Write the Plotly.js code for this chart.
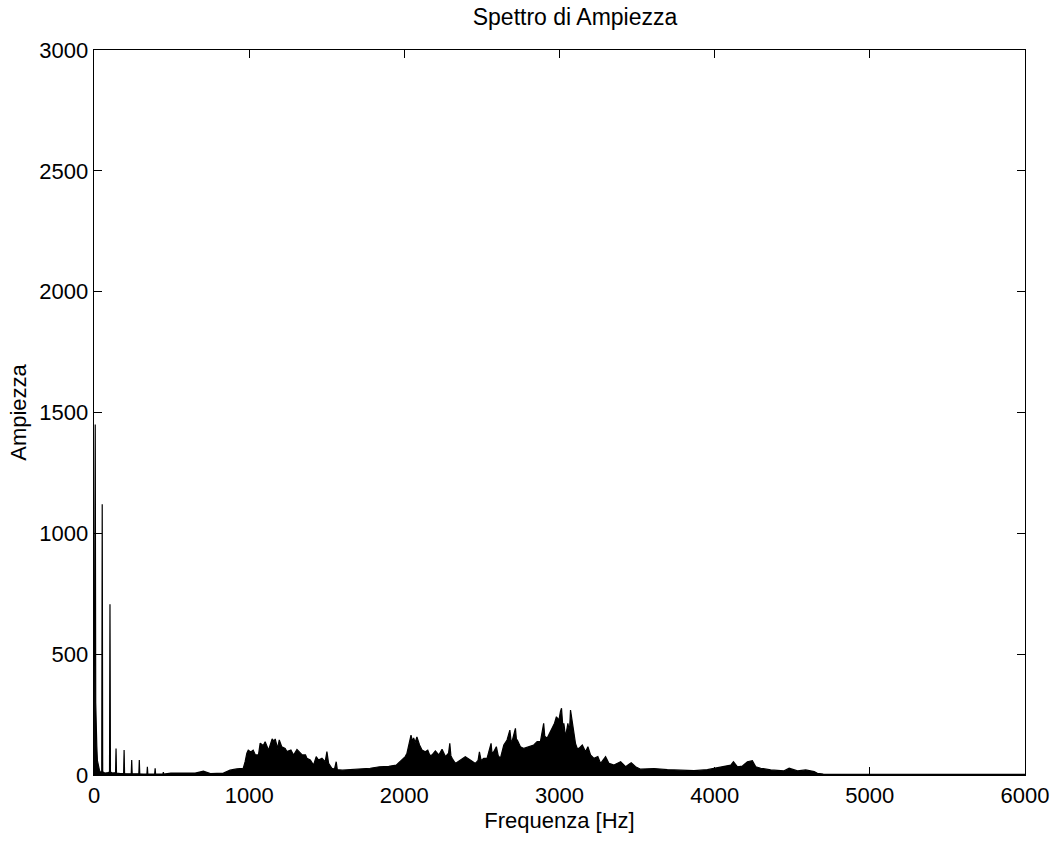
<!DOCTYPE html>
<html>
<head>
<meta charset="utf-8">
<script src="https://cdn.plot.ly/plotly-3.0.1.min.js"></script>
<style>html,body{margin:0;padding:0;background:#fff;}#chart{width:1059px;height:849px;}</style>
</head>
<body>
<div id="chart"></div>
<script>
const freq = [
  0, 3, 5, 8, 11, 14, 18, 22, 28, 35, 42, 50, 53, 56, 62, 75, 90, 100, 103, 106,
  120, 139, 142, 145, 170, 191, 194, 197, 220, 240, 243, 246, 270, 289, 292, 295,
  320, 341, 344, 347, 370, 391, 394, 397, 420, 444, 447, 450, 495, 551, 602, 652,
  705, 750, 834, 877, 920, 962, 974, 985, 994, 1010, 1026, 1040, 1060, 1071, 1084,
  1090, 1103, 1125, 1148, 1160, 1168, 1183, 1194, 1210, 1232, 1243, 1269, 1286,
  1308, 1329, 1342, 1363, 1372, 1394, 1415, 1432, 1447, 1469, 1490, 1501, 1512,
  1533, 1550, 1561, 1568, 1600, 1650, 1700, 1733, 1780, 1840, 1900, 1948, 1974,
  1985, 2006, 2017, 2028, 2043, 2052, 2060, 2070, 2081, 2098, 2114, 2135, 2151,
  2165, 2179, 2200, 2222, 2243, 2265, 2285, 2293, 2300, 2308, 2329, 2361, 2393,
  2425, 2458, 2475, 2484, 2495, 2512, 2533, 2559, 2565, 2576, 2593, 2605, 2619,
  2641, 2662, 2680, 2688, 2695, 2716, 2722, 2731, 2748, 2770, 2802, 2834, 2856,
  2877, 2898, 2905, 2920, 2946, 2968, 2980, 2996, 3006, 3013, 3023, 3028, 3039,
  3054, 3064, 3071, 3080, 3088, 3103, 3114, 3125, 3147, 3168, 3183, 3200, 3222,
  3247, 3265, 3297, 3319, 3351, 3394, 3426, 3462, 3490, 3523, 3609, 3695, 3781,
  3867, 3953, 4018, 4061, 4104, 4121, 4147, 4179, 4211, 4243, 4265, 4297, 4361,
  4447, 4480, 4534, 4587, 4641, 4662, 4700, 5000, 5500, 6000
];
const amp = [
  5, 590, 150, 1450, 300, 150, 120, 60, 40, 20, 10, 15, 1120, 15, 10, 8, 10, 12, 707, 12,
  8, 10, 110, 8, 6, 6, 103, 6, 5, 5, 62, 5, 5, 5, 62, 5,
  4, 4, 34, 4, 4, 4, 28, 4, 4, 4, 12, 4, 8, 8, 8, 8,
  16, 6, 8, 20, 25, 28, 55, 90, 103, 95, 103, 83, 83, 132, 125,
  121, 138, 103, 149, 140, 149, 110, 145, 117, 110, 97, 103, 83,
  106, 90, 83, 83, 69, 62, 41, 76, 62, 69, 55, 97, 48,
  28, 25, 55, 22, 20, 22, 24, 25, 28, 34, 36, 41, 55,
  62, 76, 90, 117, 165, 140, 153, 135, 158, 124, 103, 96, 103,
  80, 83, 100, 83, 106, 76, 90, 131, 80, 69, 48, 62, 76,
  62, 48, 60, 96, 60, 69, 69, 131, 90, 96, 117, 80, 69,
  124, 145, 186, 140, 141, 193, 150, 141, 117, 110, 117, 124, 138,
  138, 214, 160, 152, 186, 214, 241, 227, 262, 276, 186, 214, 158,
  214, 180, 269, 230, 200, 131, 110, 110, 124, 96, 117, 83, 69,
  76, 48, 76, 48, 41, 55, 34, 51, 34, 24, 27, 22, 20,
  18, 22, 29, 34, 41, 55, 34, 37, 55, 59, 34, 28, 21,
  17, 28, 17, 21, 14, 7, 4, 3, 3, 3
];
const xTicks = [0, 1000, 2000, 3000, 4000, 5000, 6000];
const yTicks = [0, 500, 1000, 1500, 2000, 2500, 3000];

const FONT = 'Liberation Sans, Arial, Helvetica, sans-serif';

const trace = {
  x: freq, y: amp, type: 'scatter', mode: 'lines',
  line: {color: '#000', width: 1.2},
  fill: 'tozeroy', fillcolor: '#000',
  hoverinfo: 'x+y'
};

const axisCommon = {
  showline: true, linecolor: '#000', linewidth: 1.3, mirror: 'ticks',
  ticks: 'inside', ticklen: 8, tickwidth: 1.2, tickcolor: '#000',
  showgrid: false, zeroline: false,
  tickfont: {family: FONT, size: 22, color: '#000'}
};

const layout = {
  width: 1059, height: 849,
  margin: {l: 94, r: 34, t: 50, b: 74},
  paper_bgcolor: '#fff', plot_bgcolor: '#fff',
  showlegend: false,
  title: {
    text: 'Spettro di Ampiezza',
    font: {family: FONT, size: 23, color: '#000'},
    x: 575 / 1059, xref: 'container', xanchor: 'center',
    y: 1 - 17 / 849, yref: 'container', yanchor: 'middle'
  },
  xaxis: Object.assign({}, axisCommon, {
    range: [0, 6000], tickvals: xTicks, ticktext: xTicks.map(String),
    title: {text: 'Frequenza [Hz]', font: {family: FONT, size: 22, color: '#000'}, standoff: 4}
  }),
  yaxis: Object.assign({}, axisCommon, {
    range: [0, 3000], tickvals: yTicks, ticktext: yTicks.map(String),
    title: {text: 'Ampiezza', font: {family: FONT, size: 22, color: '#000'}, standoff: 6}
  })
};

Plotly.newPlot('chart', [trace], layout, {displayModeBar: false, staticPlot: true});
</script>
</body>
</html>
